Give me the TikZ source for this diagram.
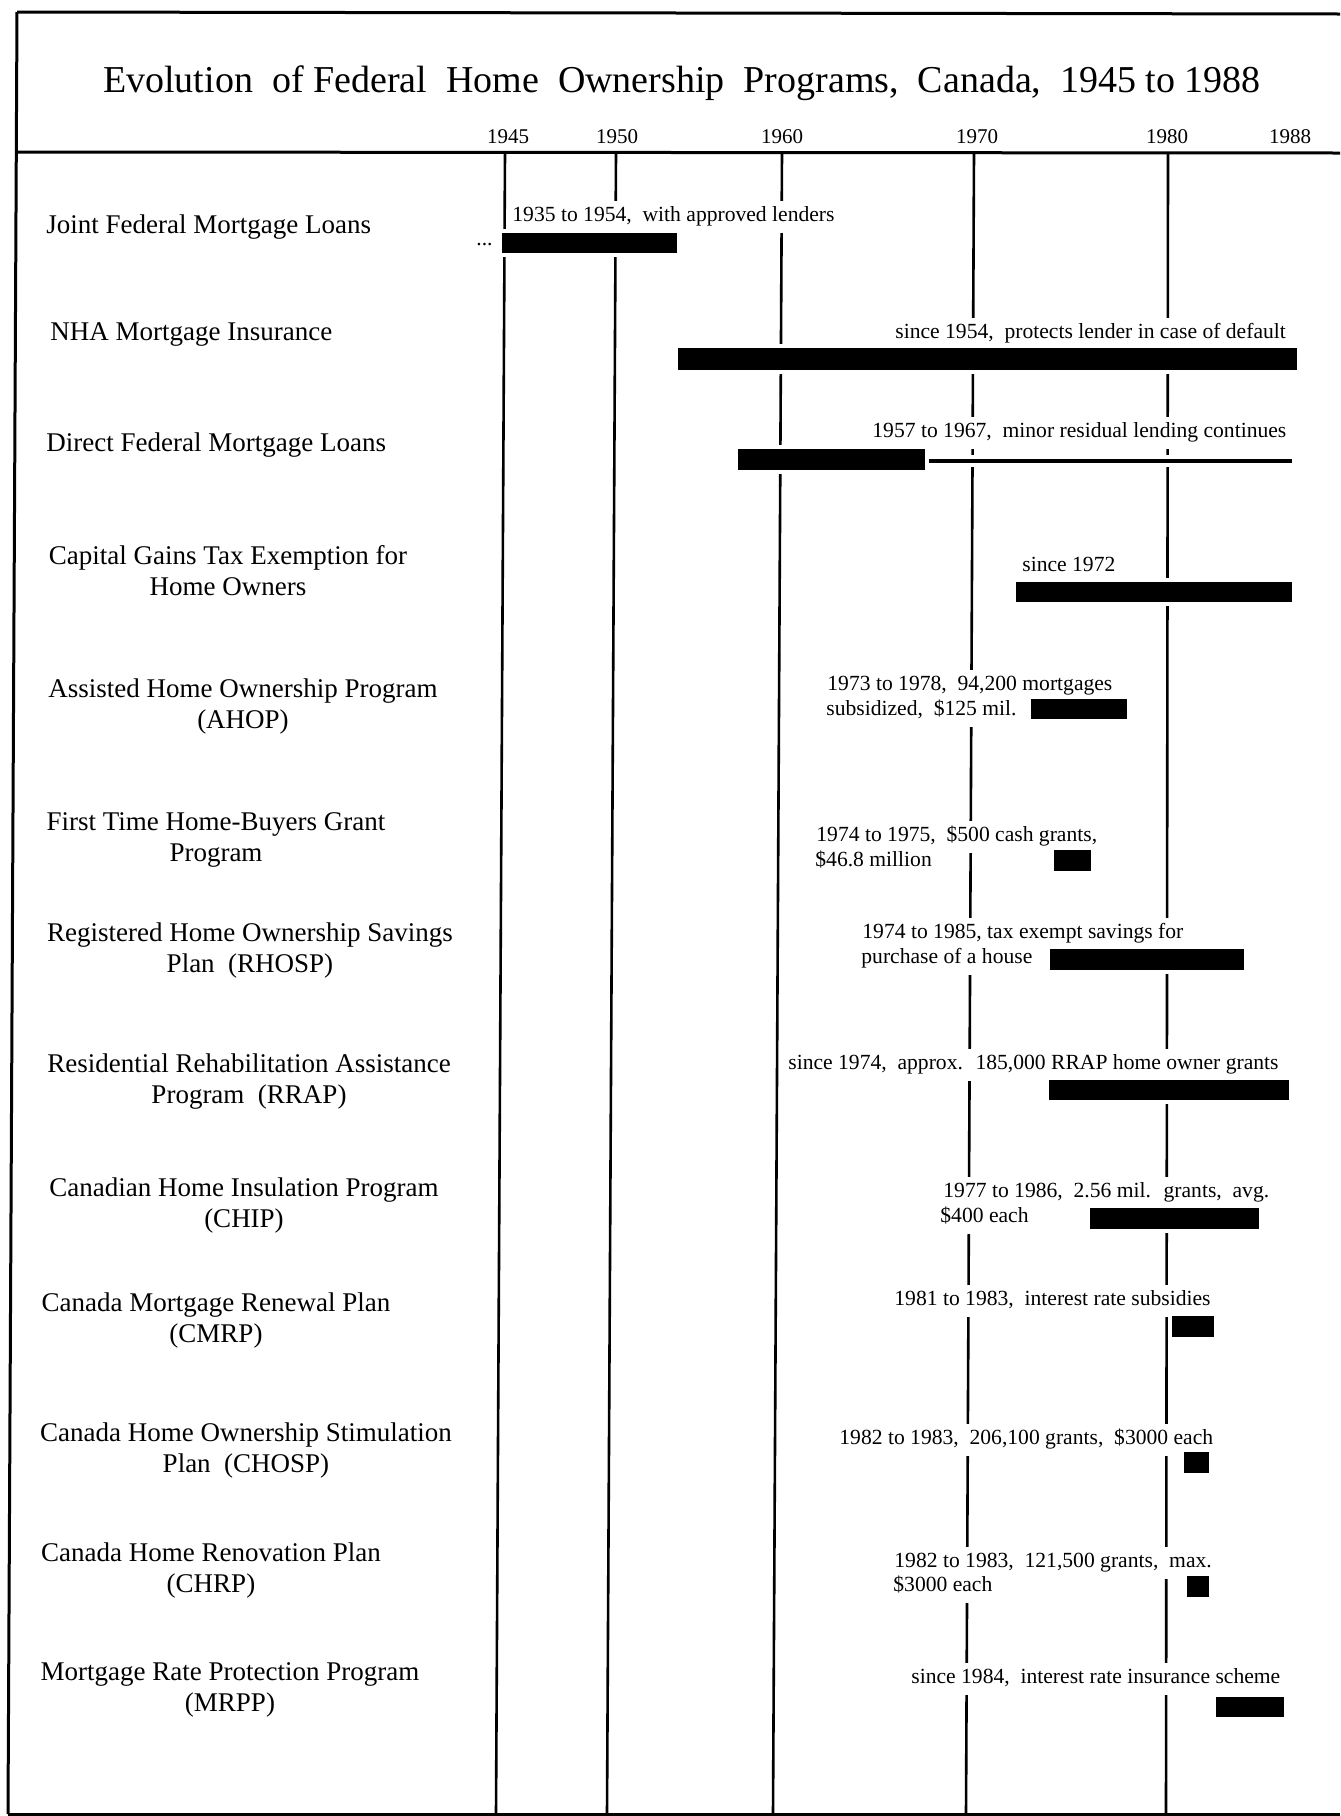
\documentclass[tikz,border=0pt]{standalone}
\usepackage{fontspec}
\setmainfont{Liberation Serif}
\begin{document}
\begin{tikzpicture}[x=0.5pt, y=-0.5pt,
        progname/.style={font=\fontsize{13.5}{15.5}\selectfont, align=center, inner sep=0pt},
        remark/.style={font=\fontsize{10.8}{13}\selectfont, anchor=west, fill=white,
            inner xsep=1pt, inner ysep=3.5pt, text height=0.7em, text depth=0.22em},
        yearmark/.style={font=\fontsize{10.5}{12}\selectfont, inner sep=1pt},
        timebar/.style={fill=black, preaction={draw=white, line width=4pt}},
        framerule/.style={line width=1.5pt},
        yearline/.style={line width=1.3pt}]

        \useasboundingbox (0,0) rectangle (1340,1816);

        % -----------------------
        % Frame and heading
        % -----------------------
        \draw[framerule] (17,12) -- (1340,14);
        \draw[framerule] (17,152) -- (1340,153);
        \draw[framerule] (17,12) -- (8,1814);
        \draw[framerule] (8,1814) -- (1340,1814);

        \node[font=\fontsize{19}{23}\selectfont, anchor=base] (title) at (682,92)
            {Evolution~ of Federal~ Home~ Ownership~ Programs,~ Canada,~ 1945 to 1988};

        \node[yearmark] (yr45) at (508,137) {1945};
        \node[yearmark] (yr50) at (617,137) {1950};
        \node[yearmark] (yr60) at (782,137) {1960};
        \node[yearmark] (yr70) at (977,137) {1970};
        \node[yearmark] (yr80) at (1167,137) {1980};
        \node[yearmark] (yr88) at (1290,137) {1988};

        % -----------------------
        % Year lines (top to bottom)
        % -----------------------
        \coordinate (t45) at (505,153);   \coordinate (b45) at (496,1814);
        \coordinate (t50) at (616,153);   \coordinate (b50) at (607,1814);
        \coordinate (t60) at (782,153);   \coordinate (b60) at (773,1814);
        \coordinate (t70) at (974,153);   \coordinate (b70) at (966,1814);
        \coordinate (t80) at (1168,153);  \coordinate (b80) at (1166,1814);

        \draw[yearline] (t45) -- (b45);
        \draw[yearline] (t50) -- (b50);
        \draw[yearline] (t60) -- (b60);
        \draw[yearline] (t70) -- (b70);
        \draw[yearline] (t80) -- (b80);

        % -----------------------
        % 1. Joint Federal Mortgage Loans
        % -----------------------
        \node[progname, anchor=west] (jfml) at (46,227) {Joint Federal Mortgage Loans};
        \node[remark] (jfmlnote) at (510,217) {1935 to 1954,~ with approved lenders};
        \node[remark] (jfmldots) at (474,241) {...};
        \fill[timebar] (502,233) rectangle (677,253);

        % -----------------------
        % 2. NHA Mortgage Insurance
        % -----------------------
        \node[progname, anchor=west] (nha) at (50,334) {NHA Mortgage Insurance};
        \node[remark] (nhanote) at (893,334) {since 1954,~ protects lender in case of default};
        \fill[timebar] (678,348) rectangle (1297,370);

        % -----------------------
        % 3. Direct Federal Mortgage Loans
        % -----------------------
        \node[progname, anchor=west] (dfml) at (46,445) {Direct Federal Mortgage Loans};
        \node[remark] (dfmlnote) at (870,433) {1957 to 1967,~ minor residual lending continues};
        \fill[timebar] (920,459) rectangle (1292,463);
        \fill[timebar] (738,449) rectangle (925,470);

        % -----------------------
        % 4. Capital Gains Tax Exemption
        % -----------------------
        \node[progname] (cgte) at (228,571) {Capital Gains Tax Exemption for\\Home Owners};
        \node[remark] (cgtenote) at (1020,567) {since 1972};
        \fill[timebar] (1016,582) rectangle (1292,602);

        % -----------------------
        % 5. AHOP
        % -----------------------
        \node[progname] (ahop) at (243,706) {Assisted Home Ownership Program\\(AHOP)};
        \node[remark] (ahopnoteA) at (825,686) {1973 to 1978,~ 94,200 mortgages};
        \node[remark] (ahopnoteB) at (824,711) {subsidized,~ \$125 mil.};
        \fill[timebar] (1031,699) rectangle (1127,719);

        % -----------------------
        % 6. First Time Home-Buyers Grant
        % -----------------------
        \node[progname] (fthb) at (216,840) {First Time Home-Buyers Grant\\Program};
        \node[remark] (fthbnoteA) at (814,837) {1974 to 1975,~ \$500 cash grants,};
        \node[remark] (fthbnoteB) at (813,862) {\$46.8 million};
        \fill[timebar] (1054,850) rectangle (1091,871);

        % -----------------------
        % 7. RHOSP
        % -----------------------
        \node[progname] (rhosp) at (250,950) {Registered Home Ownership Savings\\Plan~ (RHOSP)};
        \node[remark] (rhospnoteA) at (860,934) {1974 to 1985, tax exempt savings for};
        \node[remark] (rhospnoteB) at (859,959) {purchase of a house};
        \fill[timebar] (1050,949) rectangle (1244,970);

        % -----------------------
        % 8. RRAP
        % -----------------------
        \node[progname] (rrap) at (249,1082) {Residential Rehabilitation Assistance\\Program~ (RRAP)};
        \node[remark] (rrapnote) at (786,1065) {since 1974,~ approx.~ 185,000 RRAP home owner grants};
        \fill[timebar] (1049,1080) rectangle (1289,1100);

        % -----------------------
        % 9. CHIP
        % -----------------------
        \node[progname] (chip) at (244,1205) {Canadian Home Insulation Program\\(CHIP)};
        \node[remark] (chipnoteA) at (941,1193) {1977 to 1986,~ 2.56 mil.~ grants,~ avg.};
        \node[remark] (chipnoteB) at (938,1218) {\$400 each};
        \fill[timebar] (1090,1208) rectangle (1259,1229);

        % -----------------------
        % 10. CMRP
        % -----------------------
        \node[progname] (cmrp) at (216,1320) {Canada Mortgage Renewal Plan\\(CMRP)};
        \node[remark] (cmrpnote) at (892,1301) {1981 to 1983,~ interest rate subsidies};
        \fill[timebar] (1172,1316) rectangle (1214,1337);

        % -----------------------
        % 11. CHOSP
        % -----------------------
        \node[progname] (chosp) at (246,1450) {Canada Home Ownership Stimulation\\Plan~ (CHOSP)};
        \node[remark] (chospnote) at (837,1440) {1982 to 1983,~ 206,100 grants,~ \$3000 each};
        \fill[timebar] (1184,1452) rectangle (1209,1473);

        % -----------------------
        % 12. CHRP
        % -----------------------
        \node[progname] (chrp) at (211,1570) {Canada Home Renovation Plan\\(CHRP)};
        \node[remark] (chrpnoteA) at (892,1563) {1982 to 1983,~ 121,500 grants,~ max.};
        \node[remark] (chrpnoteB) at (891,1587) {\$3000 each};
        \fill[timebar] (1187,1576) rectangle (1209,1597);

        % -----------------------
        % 13. MRPP
        % -----------------------
        \node[progname] (mrpp) at (230,1690) {Mortgage Rate Protection Program\\(MRPP)};
        \node[remark] (mrppnote) at (909,1679) {since 1984,~ interest rate insurance scheme};
        \fill[timebar] (1216,1697) rectangle (1284,1717);

    \end{tikzpicture}
\end{document}
